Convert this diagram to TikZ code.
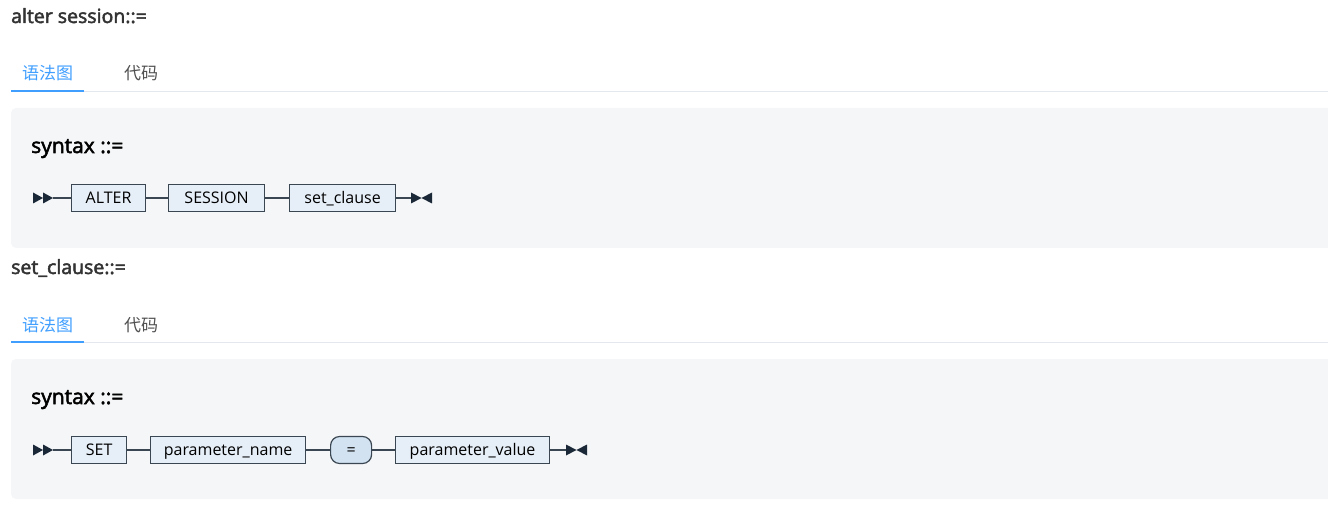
\documentclass[tikz,border=0pt]{standalone}
\usepackage{fontspec}
\setmainfont{Open Sans}[AutoFakeBold=2.5]
\newfontfamily\cjk{Noto Sans CJK SC}
\definecolor{lineC}{HTML}{3A4652}
\definecolor{boxC}{HTML}{E6EEF7}
\definecolor{pillC}{HTML}{D3E2F1}
\definecolor{arrC}{HTML}{1B2838}
\definecolor{panelC}{HTML}{F5F6F8}
\definecolor{tabBlue}{HTML}{409EFF}
\definecolor{tabGray}{HTML}{505050}
\definecolor{titleC}{HTML}{333333}
\definecolor{ruleC}{HTML}{E4E7ED}
\begin{document}
\begin{tikzpicture}[x=1pt,y=-1pt,
  term/.style={draw=lineC, fill=boxC, line width=1.2pt, minimum height=27pt,
    inner sep=0pt, text height=10.5pt, text depth=0pt,
    font=\fontsize{16}{18}\selectfont, text=black, anchor=west},
  pill/.style={term, rounded corners=9pt, fill=pillC},
  conn/.style={draw=lineC, line width=1.2pt},
  marker/.style={fill=arrC},
  heading/.style={anchor=base west, inner sep=0pt, font=\fontsize{19.5}{21}\selectfont\bfseries, text=titleC},
  syn/.style={anchor=base west, inner sep=0pt, font=\fontsize{21}{23}\selectfont\bfseries, text=black},
  tabon/.style={anchor=base west, inner sep=0pt, font=\fontsize{17}{19}\selectfont\cjk, text=tabBlue},
  taboff/.style={anchor=base west, inner sep=0pt, font=\fontsize{17}{19}\selectfont\cjk, text=tabGray},
  panel/.style={fill=panelC, rounded corners=5pt}
]
\useasboundingbox (0,0) rectangle (1328,505);
\begin{scope}
\clip (0,0) rectangle (1328,505);

% ---------- section 1 ----------
\node[heading] (h1) at (11,23) {alter session::=};
\node[tabon] (t1a) at (22,80) {语法图};
\node[taboff] (t1b) at (124,80) {代码};
\draw[ruleC, line width=1pt] (11,91.5) -- (1328,91.5);
\draw[tabBlue, line width=2pt] (11,91) -- (84,91);
\fill[panel] (11,108) rectangle (1340,248);
\node[syn] (s1) at (31,153) {syntax ::=};

% start marker
\fill[marker] (33,192.5) -- (43,198) -- (33,203.5) -- cycle;
\fill[marker] (43,192.5) -- (53,198) -- (43,203.5) -- cycle;
\coordinate (st1) at (53,198);
\node[term, minimum width=74pt] (alter) at (71,198) {ALTER};
\node[term, minimum width=96pt] (session) at (168,198) {SESSION};
\node[term, minimum width=106pt] (setclause) at (289,198) {set\_clause};
\coordinate (en1) at (411,198);
\fill[marker] (411,192.5) -- (421.5,198) -- (411,203.5) -- cycle;
\fill[marker] (432,192.5) -- (421.5,198) -- (432,203.5) -- cycle;
\draw[conn] (st1) -- (alter.west);
\draw[conn] (alter.east) -- (session.west);
\draw[conn] (session.east) -- (setclause.west);
\draw[conn] (setclause.east) -- (en1);

% ---------- section 2 ----------
\node[heading] (h2) at (11,274) {set\_clause::=};
\node[tabon] (t2a) at (22,331) {语法图};
\node[taboff] (t2b) at (124,331) {代码};
\draw[ruleC, line width=1pt] (11,342.5) -- (1328,342.5);
\draw[tabBlue, line width=2pt] (11,342) -- (84,342);
\fill[panel] (11,359) rectangle (1340,499);
\node[syn] (s2) at (31,404) {syntax ::=};

\fill[marker] (33,444.5) -- (43,450) -- (33,455.5) -- cycle;
\fill[marker] (43,444.5) -- (53,450) -- (43,455.5) -- cycle;
\coordinate (st2) at (53,450);
\node[term, minimum width=55pt] (set) at (71,450) {SET};
\node[term, minimum width=155pt] (pname) at (150,450) {parameter\_name};
\node[pill, minimum width=41pt] (eq) at (330,450) {=};
\node[term, minimum width=154pt] (pvalue) at (395,450) {parameter\_value};
\coordinate (en2) at (566,450);
\fill[marker] (566,444.5) -- (576.5,450) -- (566,455.5) -- cycle;
\fill[marker] (587,444.5) -- (576.5,450) -- (587,455.5) -- cycle;
\draw[conn] (st2) -- (set.west);
\draw[conn] (set.east) -- (pname.west);
\draw[conn] (pname.east) -- (eq.west);
\draw[conn] (eq.east) -- (pvalue.west);
\draw[conn] (pvalue.east) -- (en2);
\end{scope}
\end{tikzpicture}
\end{document}
